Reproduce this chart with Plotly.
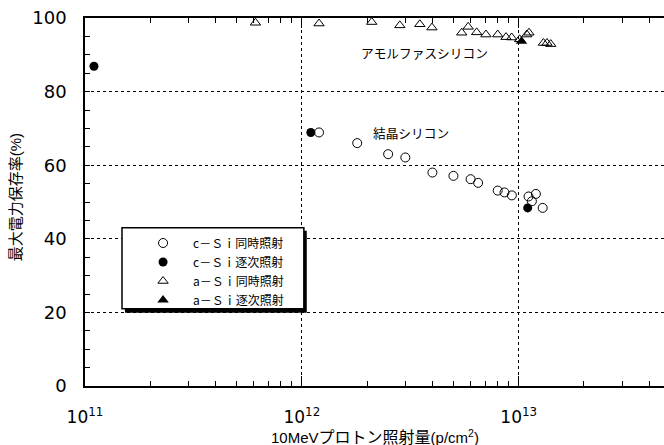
import plotly.graph_objects as go

# ---- data ----
c_si_sim_x = [1.20e12, 1.80e12, 2.50e12, 3.00e12, 4.00e12, 5.00e12, 6.00e12, 6.50e12,
              8.00e12, 8.60e12, 9.30e12, 1.11e13, 1.15e13, 1.20e13, 1.29e13]
c_si_sim_y = [68.9, 66.0, 63.0, 62.1, 58.0, 57.1, 56.2, 55.2,
              53.1, 52.6, 51.8, 51.5, 50.2, 52.2, 48.4]

c_si_seq_x = [1.10e11, 1.10e12, 1.10e13]
c_si_seq_y = [86.9, 68.9, 48.4]

a_si_sim_x = [6.11e11, 1.20e12, 2.10e12, 2.83e12, 3.50e12, 3.98e12, 5.46e12, 5.85e12,
              6.40e12, 7.06e12, 8.00e12, 8.74e12, 9.28e12, 1.01e13, 1.09e13, 1.115e13,
              1.30e13, 1.35e13, 1.405e13]
a_si_sim_y = [98.7, 98.5, 98.9, 98.0, 98.3, 97.4, 96.0, 97.6,
              96.1, 95.5, 95.5, 94.8, 94.7, 94.2, 95.5, 96.0,
              93.2, 93.2, 92.9]

a_si_seq_x = [1.03e13]
a_si_seq_y = [93.7]

legend_names = ["c－Ｓｉ同時照射", "c－Ｓｉ逐次照射", "a－Ｓｉ同時照射", "a－Ｓｉ逐次照射"]

x_major = [1e11, 1e12, 1e13]
x_major_text = ["10<sup>11</sup>", "10<sup>12</sup>", "10<sup>13</sup>"]
x_minor = [m * d for d in (1e11, 1e12, 1e13) for m in range(2, 10)]
y_major = [0, 20, 40, 60, 80, 100]

x_title = "10MeV<span style='font-size:16px'>プロトン照射量</span>(p/cm<sup>2</sup>)"
y_title = "最大電力保存率(%)"
label_a = "アモルファスシリコン"
label_c = "結晶シリコン"

JP = "Noto Sans CJK JP"
NUM = "DejaVu Sans"

fig = go.Figure()
fig.add_trace(go.Scatter(x=c_si_sim_x, y=c_si_sim_y, mode="markers", name=legend_names[0],
                         marker=dict(symbol="circle-open", size=9, color="black", line=dict(width=1)),
                         cliponaxis=False))
fig.add_trace(go.Scatter(x=c_si_seq_x, y=c_si_seq_y, mode="markers", name=legend_names[1],
                         marker=dict(symbol="circle", size=9, color="black"),
                         cliponaxis=False))
fig.add_trace(go.Scatter(x=a_si_sim_x, y=a_si_sim_y, mode="markers", name=legend_names[2],
                         marker=dict(symbol="triangle-up-open", size=9, color="black", line=dict(width=1)),
                         cliponaxis=False))
fig.add_trace(go.Scatter(x=a_si_seq_x, y=a_si_seq_y, mode="markers", name=legend_names[3],
                         marker=dict(symbol="triangle-up", size=10, color="black"),
                         cliponaxis=False))

fig.update_layout(
    width=664, height=445, autosize=False,
    margin=dict(l=85, r=0, t=18, b=59),
    paper_bgcolor="white", plot_bgcolor="white",
    showlegend=True,
    legend=dict(x=0.083, y=0.428, xanchor="left", yanchor="top",
                bgcolor="rgba(0,0,0,0)", borderwidth=0, itemwidth=50,
                font=dict(family=JP, size=12, color="black")),
    xaxis=dict(type="log", range=[11, 13.67],
               tickmode="array", tickvals=x_major, ticktext=x_major_text,
               ticks="inside", ticklen=10, tickwidth=1.3, tickcolor="black",
               showline=True, linecolor="black", linewidth=1.5, mirror="ticks",
               showgrid=True, gridcolor="black", griddash="dot", gridwidth=1.2,
               zeroline=False, ticklabelstandoff=15,
               tickfont=dict(family=NUM, size=17, color="black"),
               minor=dict(tickmode="array", tickvals=x_minor, ticks="inside",
                          ticklen=5, tickwidth=1, tickcolor="black", showgrid=False)),
    yaxis=dict(range=[0, 100], tickmode="array", tickvals=y_major,
               ticks="inside", ticklen=5, tickwidth=1, tickcolor="black",
               showline=True, linecolor="black", linewidth=1.5, mirror=False,
               showgrid=True, gridcolor="black", griddash="dot", gridwidth=1.2,
               zeroline=False, ticklabelstandoff=13,
               tickfont=dict(family=NUM, size=18, color="black"),
               minor=dict(dtick=5, ticks="inside", ticklen=5, tickwidth=1,
                          tickcolor="black", showgrid=False)),
    shapes=[
        dict(type="rect", xref="paper", yref="paper", x0=0.069, x1=0.383, y0=0.199, y1=0.422,
             fillcolor="black", line=dict(width=0), layer="above"),
        dict(type="rect", xref="paper", yref="paper", x0=0.0639, x1=0.378, y0=0.210, y1=0.430,
             fillcolor="white", line=dict(color="black", width=1.5), layer="above"),
    ],
    annotations=[
        dict(text=label_a, xref="paper", yref="paper", x=0.586, y=0.906, showarrow=False,
             xanchor="center", yanchor="middle", font=dict(family=JP, size=12.7, color="black")),
        dict(text=label_c, xref="paper", yref="paper", x=0.563, y=0.688, showarrow=False,
             xanchor="center", yanchor="middle", font=dict(family=JP, size=12.7, color="black")),
        dict(text=y_title, xref="paper", yref="paper", x=-0.1209, y=0.513, showarrow=False,
             textangle=-90, xanchor="center", yanchor="middle",
             font=dict(family="Liberation Sans, " + JP, size=15, color="black")),
        dict(text=x_title, xref="paper", yref="paper", x=0.5, y=-0.136, showarrow=False,
             xanchor="center", yanchor="middle",
             font=dict(family="Liberation Sans, " + JP, size=15, color="black")),
    ],
)

fig.write_html("out.html", config={"displayModeBar": False},
               post_script="document.body.style.margin='0px';document.body.style.overflow='hidden';")
